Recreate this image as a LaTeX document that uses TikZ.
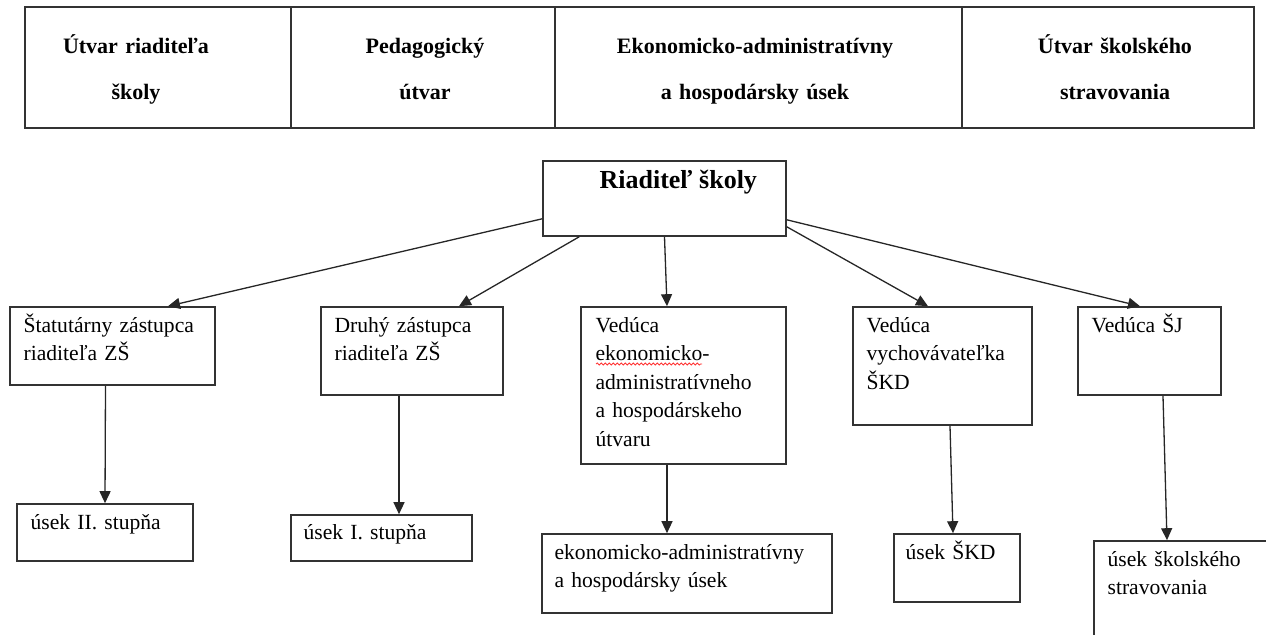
\documentclass[tikz,border=0pt]{standalone}
\usepackage{fontspec}
\setmainfont{Liberation Serif}
\usetikzlibrary{arrows.meta,fit,decorations.pathmorphing}

\tikzset{
  orgbox/.style={draw=black!80, line width=0.8pt, inner sep=0pt},
  txt/.style={anchor=base west, align=left, text width=150pt, inner sep=0pt, font=\fontsize{10.8}{14.25}\selectfont},
  head/.style={anchor=base, align=center, text width=150pt, inner sep=0pt, font=\bfseries\fontsize{11}{23}\selectfont},
  link/.style={-{Triangle[length=6pt,width=5.5pt]}, line width=0.65pt, draw=black!85},
}

\begin{document}
\begin{tikzpicture}[x=0.5pt, y=-0.5pt]
    \useasboundingbox (0,0) rectangle (1266,635);

    % Top table
    \node[orgbox, fit={(25,7) (291,128)}] (c1) {};
    \node[orgbox, fit={(291,7) (555,128)}] (c2) {};
    \node[orgbox, fit={(555,7) (962,128)}] (c3) {};
    \node[orgbox, fit={(962,7) (1254,128)}] (c4) {};

    \node[head] (c1t) at (136,54) {Útvar riaditeľa\\školy};
    \node[head] (c2t) at (425,54) {Pedagogický\\útvar};
    \node[head] (c3t) at (755,54) {Ekonomicko-administratívny\\a hospodársky úsek};
    \node[head] (c4t) at (1115,54) {Útvar školského\\stravovania};

    % Director
    \node[orgbox, fit={(543,161) (786,236)}] (riad) {};
    \node[anchor=base west, inner sep=0pt, font=\bfseries\fontsize{13}{15}\selectfont] (riadT)
        at ([xshift=28.5pt,yshift=-14pt]riad.north west) {Riaditeľ školy};

    % Second row
    \node[orgbox, fit={(10,307) (215,385)}] (stat) {};
    \node[orgbox, fit={(321,307) (503,395)}] (druhy) {};
    \node[orgbox, fit={(581,307) (786,464)}] (ekon) {};
    \node[orgbox, fit={(853,307) (1032,425)}] (vych) {};
    \node[orgbox, fit={(1078,307) (1221,395)}] (sj) {};

    \node[txt] (statT) at ([xshift=7pt,yshift=-13pt]stat.north west) {Štatutárny zástupca\\riaditeľa ZŠ};
    \node[txt] (druhyT) at ([xshift=7pt,yshift=-13pt]druhy.north west) {Druhý zástupca\\riaditeľa ZŠ};
    \node[txt] (ekonT) at ([xshift=7.5pt,yshift=-13pt]ekon.north west)
        {Vedúca\\ekonomicko-\\administratívneho\\a hospodárskeho\\útvaru};
    \node[txt] (vychT) at ([xshift=7pt,yshift=-13pt]vych.north west) {Vedúca\\vychovávateľka\\ŠKD};
    \node[txt] (sjT) at ([xshift=7pt,yshift=-13pt]sj.north west) {Vedúca ŠJ};

    % spell-check underline
    \draw[red!80, line width=0.4pt, decorate, decoration={snake, amplitude=0.5pt, segment length=2pt}]
        (596,364) -- (702,364);

    % Third row
    \node[orgbox, fit={(17,504) (193,561)}] (us2) {};
    \node[orgbox, fit={(291,515) (472,561)}] (us1) {};
    \node[orgbox, fit={(542,534) (832,613)}] (uek) {};
    \node[orgbox, fit={(894,534) (1020,602)}] (uskd) {};
    \node[orgbox, fit={(1094,541) (1290,660)}] (ussj) {};

    \node[txt] (us2T) at ([xshift=7pt,yshift=-13pt]us2.north west) {úsek II. stupňa};
    \node[txt] (us1T) at ([xshift=6.5pt,yshift=-12.5pt]us1.north west) {úsek I. stupňa};
    \node[txt] (uekT) at ([xshift=6.5pt,yshift=-13pt]uek.north west)
        {ekonomicko-administratívny\\a hospodársky úsek};
    \node[txt] (uskdT) at ([xshift=6pt,yshift=-13pt]uskd.north west) {úsek ŠKD};
    \node[txt] (ussjT) at ([xshift=7pt,yshift=-13pt]ussj.north west) {úsek školského\\stravovania};

    % Arrows from the director
    \draw[link] ([yshift=9pt]riad.south west) -- ([xshift=27.75pt]stat.north);
    \draw[link] ([xshift=18.5pt]riad.south west) -- ([xshift=23.5pt]druhy.north);
    \draw[link] (riad.south) -- ([xshift=-8.25pt]ekon.north);
    \draw[link] ([yshift=5pt]riad.south east) -- ([xshift=-7.25pt]vych.north);
    \draw[link] ([yshift=8.5pt]riad.south east) -- ([xshift=-4.75pt]sj.north);

    % Arrows down
    \draw[link] ([xshift=-3.5pt]stat.south) -- (us2.north);
    \draw[link] ([xshift=-6.5pt]druhy.south) -- ([xshift=8.75pt]us1.north);
    \draw[link] ([xshift=-8.25pt]ekon.south) -- ([xshift=-10pt]uek.north);
    \draw[link] ([xshift=3.75pt]vych.south) -- ([xshift=-2pt]uskd.north);
    \draw[link] ([xshift=6.75pt]sj.south) -- ([xshift=-12.5pt]ussj.north);
\end{tikzpicture}
\end{document}
